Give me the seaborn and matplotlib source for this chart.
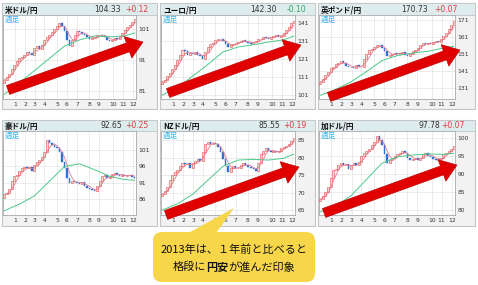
import numpy as np
import pandas as pd
import matplotlib
matplotlib.use("Agg")
import matplotlib.pyplot as plt
import seaborn as sns
from matplotlib.patches import Rectangle, FancyArrow, FancyBboxPatch, Polygon

# 週足（2013年）終値データ
weeks = np.arange(53)
month_labels = [str(m) for m in range(1, 13)]
month_pos = [4.3, 8.3, 12.2, 16, 21, 25, 29, 33.8, 37.7, 43.5, 47.3, 51.3]
ma_weeks = [0, 6, 12, 18, 24, 30, 36, 42, 48, 52]

usd_open0 = 83.5
usd_close = [84.5, 85.5, 86.5, 88.0, 89.5, 90.5, 91.5, 91.8, 92.7, 93.5,
             93.2, 92.5, 95.0, 95.5, 94.5, 96.0, 97.5, 98.5, 99.0, 100.0,
             101.0, 102.0, 103.0, 102.0, 100.5, 97.5, 95.5, 97.5, 99.0, 100.5,
             100.0, 99.5, 99.0, 98.5, 97.8, 98.2, 98.5, 99.0, 99.2, 99.0,
             98.5, 97.5, 97.2, 97.6, 98.0, 97.8, 98.8, 99.8, 100.8, 101.8,
             102.5, 103.3, 104.3]
usd_ma26 = [79.8, 83.5, 87.5, 91.5, 95.5, 97.5, 98.8, 98.5, 98.8, 99.8]

eur_open0 = 107.0
eur_close = [108.5, 109.5, 111.5, 113.5, 115.5, 117.5, 120.5, 123.5, 126.0, 125.5,
             123.5, 124.5, 124.0, 125.0, 123.5, 122.5, 121.0, 125.0, 127.5, 129.5,
             130.0, 131.5, 132.5, 132.0, 131.0, 129.5, 127.5, 129.0, 129.5, 130.0,
             130.5, 131.0, 131.5, 130.5, 130.0, 129.5, 130.5, 131.0, 132.0, 132.5,
             133.5, 133.0, 132.5, 133.5, 134.0, 134.5, 133.5, 134.0, 135.5, 137.0,
             139.0, 141.0, 142.3]
eur_ma26 = [101.0, 105.0, 111.5, 118.0, 125.0, 127.8, 129.0, 130.5, 131.8, 133.8]

gbp_open0 = 133.0
gbp_close = [134.5, 136.0, 138.5, 140.5, 142.5, 143.5, 145.0, 145.5, 146.5, 145.5,
             144.0, 143.0, 143.5, 142.5, 144.5, 143.5, 143.0, 148.0, 151.0, 153.0,
             154.0, 155.0, 156.0, 156.5, 154.5, 152.5, 149.5, 150.5, 151.0, 151.5,
             151.0, 151.5, 152.0, 150.5, 150.0, 151.0, 152.5, 153.5, 154.5, 156.5,
             157.5, 157.0, 157.5, 157.0, 158.0, 158.5, 158.0, 160.0, 161.5, 163.5,
             165.5, 168.0, 170.7]
gbp_ma26 = [126.5, 130.0, 134.5, 140.5, 147.0, 150.0, 151.5, 152.5, 154.5, 155.5]

aud_open0 = 86.5
aud_close = [87.5, 88.0, 89.0, 91.5, 93.0, 93.5, 94.5, 95.5, 95.8, 95.5,
             95.8, 94.5, 96.5, 97.5, 98.0, 99.0, 100.5, 104.0, 103.0, 102.5,
             102.0, 101.5, 100.5, 97.5, 95.5, 92.5, 91.0, 91.5, 91.2, 91.0,
             90.8, 91.2, 90.0, 89.5, 89.0, 88.8, 88.5, 90.0, 91.5, 93.0,
             93.5, 92.5, 92.8, 93.8, 94.0, 93.5, 93.2, 93.5, 93.0, 93.3,
             93.5, 92.8, 92.6]
aud_ma26 = [82.5, 84.5, 87.0, 91.5, 96.0, 96.8, 95.0, 93.0, 92.0, 91.8]

nzd_open0 = 69.0
nzd_close = [69.5, 70.5, 71.5, 73.5, 75.0, 76.0, 76.5, 77.5, 78.5, 78.2,
             78.5, 77.0, 78.5, 79.0, 79.5, 79.0, 81.5, 84.0, 84.5, 84.0,
             84.2, 83.8, 83.0, 81.5, 79.5, 77.5, 76.0, 77.0, 77.5, 77.0,
             77.0, 77.8, 78.5, 78.0, 77.2, 77.0, 76.8, 76.2, 78.5, 81.0,
             82.0, 82.8, 82.0, 81.5, 81.8, 81.5, 82.0, 82.8, 83.0, 83.2,
             84.0, 84.8, 85.5]
nzd_ma26 = [65.0, 66.8, 69.5, 73.5, 77.5, 79.3, 79.5, 79.3, 79.8, 81.0]

cad_open0 = 82.5
cad_close = [83.0, 83.8, 85.0, 86.5, 89.0, 91.0, 91.5, 92.5, 93.0, 92.5,
             92.8, 91.5, 92.5, 93.0, 92.5, 93.5, 95.0, 96.0, 96.5, 97.0,
             98.0, 99.0, 100.5, 99.5, 98.0, 95.5, 93.0, 94.0, 94.5, 95.0,
             95.5, 96.0, 96.5, 96.0, 94.5, 93.8, 94.2, 94.5, 94.0, 94.5,
             95.5, 96.0, 95.0, 94.8, 94.2, 94.0, 94.2, 94.5, 95.5, 96.0,
             96.5, 97.0, 97.8]
cad_ma26 = [79.5, 81.0, 84.0, 88.5, 93.0, 94.8, 95.3, 95.6, 95.5, 95.8]

W, H = 478, 285

# レイアウト（ピクセル）
col_box = [(2, 157), (160, 315), (318, 475)]
col_plot = [(3, 136), (161, 295), (319, 455)]
row_box = [(3, 109), (120, 226)]
row_head = [(3, 15), (120, 131)]
row_plot = [(15, 99), (131, 215)]

panels = [
    dict(name="米ドル/円", last="104.33", chg="+0.12", open0=usd_open0, close=usd_close, ma=usd_ma26,
         ylim=(78.3, 105.6), yticks=[81, 91, 101], pos=(0, 0), vx=119, cx=146,
         arrow=((8, 90), (143, 42))),
    dict(name="ユーロ/円", last="142.30", chg="-0.10", open0=eur_open0, close=eur_close, ma=eur_ma26,
         ylim=(98.8, 145.6), yticks=[101, 111, 121, 131, 141], pos=(0, 1), vx=117, cx=146,
         arrow=((168, 93), (301, 45))),
    dict(name="英ポンド/円", last="170.73", chg="+0.07", open0=gbp_open0, close=gbp_close, ma=gbp_ma26,
         ylim=(124.3, 174.0), yticks=[131, 141, 151, 161, 171], pos=(0, 2), vx=110, cx=140,
         arrow=((329, 97), (460, 50))),
    dict(name="豪ドル/円", last="92.65", chg="+0.25", open0=aud_open0, close=aud_close, ma=aud_ma26,
         ylim=(81.2, 106.8), yticks=[86, 91, 96, 101], pos=(1, 0), vx=120, cx=146,
         arrow=None),
    dict(name="NZドル/円", last="85.55", chg="+0.19", open0=nzd_open0, close=nzd_close, ma=nzd_ma26,
         ylim=(63.6, 87.6), yticks=[65, 70, 75, 80, 85], pos=(1, 1), vx=120, cx=146,
         arrow=((166, 215), (299, 167))),
    dict(name="加ドル/円", last="97.78", chg="+0.07", open0=cad_open0, close=cad_close, ma=cad_ma26,
         ylim=(78.6, 102.0), yticks=[80, 85, 90, 95, 100], pos=(1, 2), vx=122, cx=147,
         arrow=((324, 213), (457, 165))),
]

sns.set_style("white")
plt.rcParams["font.family"] = ["Noto Sans CJK JP", "DejaVu Sans"]


def fig_rect(x0, y0, x1, y1):
    return [x0 / W, 1 - y1 / H, (x1 - x0) / W, (y1 - y0) / H]


fig = plt.figure(figsize=(W / 100, H / 100), dpi=100)
fig.patch.set_facecolor("white")

# 背景（枠・ヘッダー）
bg = fig.add_axes([0, 0, 1, 1])
bg.set_xlim(0, W)
bg.set_ylim(H, 0)
bg.axis("off")

for p in panels:
    r, c = p["pos"]
    bx0, bx1 = col_box[c]
    by0, by1 = row_box[r]
    hy0, hy1 = row_head[r]
    px0, px1 = col_plot[c]
    py0, py1 = row_plot[r]
    bg.add_patch(Rectangle((bx0, by0), bx1 - bx0, by1 - by0, facecolor="#f2f2f2",
                           edgecolor="#c4c4c4", linewidth=0.8))
    bg.add_patch(Rectangle((bx0, hy0), bx1 - bx0, hy1 - hy0, facecolor="#deecee",
                           edgecolor="#c4c4c4", linewidth=0.6))
    hy = (hy0 + hy1) / 2
    bg.text(bx0 + 3, hy + 0.5, p["name"], fontsize=5.5, fontweight="bold", va="center", ha="left", color="#111111")
    bg.text(bx0 + p["vx"], hy + 0.5, p["last"], fontsize=5.5, va="center", ha="right", color="#333333",
            family=["DejaVu Sans"])
    chg_color = "#e03c3c" if p["chg"].startswith("+") else "#2fa866"
    bg.text(bx0 + p["cx"], hy + 0.5, p["chg"], fontsize=5.5, va="center", ha="right", color=chg_color,
            family=["DejaVu Sans"])

# ローソク足
for p in panels:
    r, c = p["pos"]
    px0, px1 = col_plot[c]
    py0, py1 = row_plot[r]
    ax = fig.add_axes(fig_rect(px0, py0, px1, py1))
    ax.set_facecolor("white")

    close = np.array(p["close"])
    opn = np.concatenate([[p["open0"]], close[:-1]])
    up = close >= opn
    down = ~up
    ax.bar(weeks[up], (close - opn)[up], bottom=opn[up], width=0.8,
           color="#fcd4d4", edgecolor="#e04a4a", linewidth=0.4, zorder=3)
    ax.bar(weeks[down], (close - opn)[down], bottom=opn[down], width=0.6,
           color="#2f6fd6", edgecolor="#2f6fd6", linewidth=0.3, zorder=3)

    short_ma = pd.Series(close).rolling(4, min_periods=1).mean()
    sns.lineplot(x=weeks, y=short_ma, ax=ax, color="#e47a8c", linewidth=0.6, zorder=4)
    sns.lineplot(x=ma_weeks, y=p["ma"], ax=ax, color="#4cc98a", linewidth=0.7, zorder=4)

    ax.set_xlim(-0.5, 52.5)
    ax.set_ylim(*p["ylim"])
    ax.set_xticks(month_pos)
    ax.set_xticklabels(month_labels)
    ax.set_yticks(p["yticks"])
    ax.set_yticklabels([str(v) for v in p["yticks"]])
    ax.yaxis.tick_right()
    ax.tick_params(axis="both", length=0, labelsize=4.3, colors="#333333")
    ax.tick_params(axis="x", pad=2.2)
    ax.tick_params(axis="y", pad=2.0)
    for lab in ax.get_xticklabels() + ax.get_yticklabels():
        lab.set_family("DejaVu Sans")
    ax.grid(True, color="#e4e4e4", linewidth=0.5, zorder=0)
    ax.set_axisbelow(True)
    for s in ax.spines.values():
        s.set_color("#a8a8a8")
        s.set_linewidth(0.6)
    ax.set_xlabel("")
    ax.set_ylabel("")
    ax.text(0.01, 0.985, "週足", transform=ax.transAxes, fontsize=5.5, color="#35b8f0",
            va="top", ha="left", zorder=5)

# 矢印・吹き出し
ov = fig.add_axes([0, 0, 1, 1])
ov.set_xlim(0, W)
ov.set_ylim(H, 0)
ov.axis("off")
ov.patch.set_alpha(0)

for p in panels:
    if p["arrow"] is None:
        continue
    (x0, y0), (x1, y1) = p["arrow"]
    ov.add_patch(FancyArrow(x0, y0, x1 - x0, y1 - y0, width=9.5, head_width=23, head_length=16,
                            length_includes_head=True, facecolor="#e00000", edgecolor="#b80000",
                            linewidth=0.4))

yellow = "#f8d64a"
ov.add_patch(Polygon([(183, 236), (214, 236), (234, 208)], closed=True, facecolor=yellow, edgecolor="none"))
ov.add_patch(FancyBboxPatch((153, 232), 162, 50, boxstyle="round,pad=0,rounding_size=9",
                            facecolor=yellow, edgecolor="none"))
ov.text(234, 250, "2013年は、１年前と比べると", fontsize=8, ha="center", va="center", color="#111111")

fig.canvas.draw()
rend = fig.canvas.get_renderer()
parts = [("格段に", "normal"), ("円安", "bold"), ("が進んだ印象", "normal")]
objs, widths = [], []
for s, wt in parts:
    t = ov.text(0, 267, s, fontsize=8, fontweight=wt, ha="left", va="center", color="#111111")
    objs.append(t)
    widths.append(t.get_window_extent(rend).width)
x = 234 - sum(widths) / 2
for t, w in zip(objs, widths):
    t.set_x(x)
    x += w

fig.savefig("out.png", dpi=100)
